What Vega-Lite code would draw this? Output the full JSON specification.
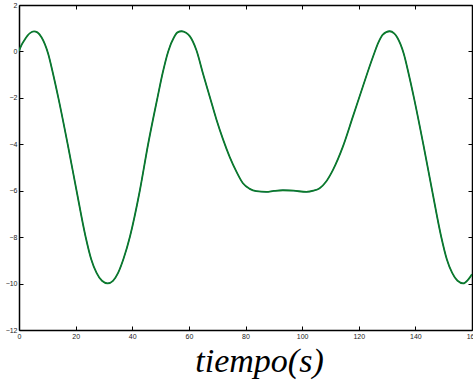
{
  "$schema": "https://vega.github.io/schema/vega-lite/v6.json",
  "width": 453,
  "height": 325,
  "autosize": "none",
  "padding": {"left": 19, "top": 5, "right": 1, "bottom": 53},
  "background": "white",
  "config": {"view": {"stroke": null}},
  "data": {"values": [
    {"t": 0, "v": 0.02}, {"t": 1, "v": 0.3}, {"t": 2, "v": 0.5}, {"t": 3, "v": 0.68}, {"t": 4, "v": 0.8},
    {"t": 5.3, "v": 0.86}, {"t": 6.5, "v": 0.82}, {"t": 8, "v": 0.6}, {"t": 10.3, "v": -0.1}, {"t": 12, "v": -0.95},
    {"t": 13.9, "v": -2.0}, {"t": 17.2, "v": -4.0}, {"t": 20.3, "v": -5.98}, {"t": 23.5, "v": -7.97}, {"t": 25.5, "v": -8.95},
    {"t": 27.4, "v": -9.54}, {"t": 29.3, "v": -9.88}, {"t": 31.3, "v": -9.99}, {"t": 33.2, "v": -9.88}, {"t": 35.0, "v": -9.54},
    {"t": 37.0, "v": -8.9}, {"t": 39.2, "v": -7.97}, {"t": 42.7, "v": -5.98}, {"t": 45.6, "v": -4.0}, {"t": 48.9, "v": -2.0},
    {"t": 50.8, "v": -0.9}, {"t": 52.7, "v": 0.0}, {"t": 54.8, "v": 0.62}, {"t": 56.0, "v": 0.82}, {"t": 57.4, "v": 0.87},
    {"t": 59.0, "v": 0.8}, {"t": 60.3, "v": 0.66}, {"t": 62.7, "v": 0.04}, {"t": 65.0, "v": -0.96}, {"t": 67.4, "v": -1.96},
    {"t": 69.7, "v": -2.92}, {"t": 72.1, "v": -3.8}, {"t": 74.4, "v": -4.54}, {"t": 76.8, "v": -5.18}, {"t": 79.1, "v": -5.68},
    {"t": 81.5, "v": -5.92}, {"t": 83.8, "v": -6.02}, {"t": 87.4, "v": -6.05},
    {"t": 90.0, "v": -6.01}, {"t": 93.2, "v": -5.98}, {"t": 97.0, "v": -6.0}, {"t": 101.5, "v": -6.05}, {"t": 104.0, "v": -6.0},
    {"t": 106.2, "v": -5.89}, {"t": 108.5, "v": -5.6}, {"t": 110.9, "v": -5.1}, {"t": 114.4, "v": -4.1}, {"t": 117.9, "v": -2.82},
    {"t": 121.4, "v": -1.53}, {"t": 125.0, "v": -0.24}, {"t": 127.0, "v": 0.4}, {"t": 128.5, "v": 0.72}, {"t": 130.9, "v": 0.87},
    {"t": 132.5, "v": 0.78}, {"t": 133.6, "v": 0.6}, {"t": 135.9, "v": -0.1}, {"t": 137.6, "v": -0.95}, {"t": 139.5, "v": -2.0},
    {"t": 142.8, "v": -4.0}, {"t": 145.9, "v": -5.98}, {"t": 149.1, "v": -7.97}, {"t": 151.1, "v": -8.95}, {"t": 153.0, "v": -9.54},
    {"t": 154.9, "v": -9.88}, {"t": 156.9, "v": -9.99}, {"t": 158.5, "v": -9.85}, {"t": 160, "v": -9.6}
  ]},
  "layer": [
    {
      "mark": {"type": "line", "color": "#1010e0", "strokeWidth": 1, "interpolate": "monotone", "clip": true},
      "encoding": {
        "x": {"field": "t", "type": "quantitative", "scale": {"domain": [0, 160], "nice": false},
          "axis": {"orient": "top", "title": null, "labels": false, "values": [0, 20, 40, 60, 80, 100, 120, 140, 160], "tickSize": -4, "tickColor": "black", "domainColor": "black", "domainWidth": 1.5, "grid": false}},
        "y": {"field": "v", "type": "quantitative", "scale": {"domain": [-12, 2], "nice": false, "zero": false},
          "axis": {"orient": "right", "title": null, "labels": false, "values": [-12, -10, -8, -6, -4, -2, 0, 2], "tickSize": -4, "tickColor": "black", "domainColor": "black", "domainWidth": 1.5, "grid": false}}
      }
    },
    {
      "mark": {"type": "line", "color": "#0b7a2b", "strokeWidth": 1.8, "interpolate": "monotone", "clip": true},
      "encoding": {
        "x": {"field": "t", "type": "quantitative", "scale": {"domain": [0, 160], "nice": false},
          "axis": {"orient": "bottom", "title": "tiempo(s)", "values": [0, 20, 40, 60, 80, 100, 120, 140, 160],
            "tickSize": -4, "tickColor": "black", "domainColor": "black", "domainWidth": 1.5, "grid": false,
            "labelFont": "Liberation Sans Narrow, Liberation Sans", "labelFontSize": 7, "labelColor": "#222", "labelPadding": 6, "labelOverlap": false, "labelFlush": false,
            "titleFont": "Liberation Serif", "titleFontStyle": "italic", "titleFontWeight": "normal", "titleFontSize": 34, "titleColor": "black",
            "titleX": 240, "titleY": 41, "titleAlign": "center", "titleBaseline": "alphabetic"}},
        "y": {"field": "v", "type": "quantitative", "scale": {"domain": [-12, 2], "nice": false, "zero": false},
          "axis": {"orient": "left", "title": null, "values": [-12, -10, -8, -6, -4, -2, 0, 2],
            "tickSize": -4, "tickColor": "black", "domainColor": "black", "domainWidth": 1.5, "grid": false,
            "labelFont": "Liberation Sans Narrow, Liberation Sans", "labelFontSize": 7, "labelColor": "#222", "labelPadding": 6, "labelOverlap": false, "labelFlush": false}}
      }
    }
  ],
  "resolve": {"axis": {"x": "independent", "y": "independent"}}
}
